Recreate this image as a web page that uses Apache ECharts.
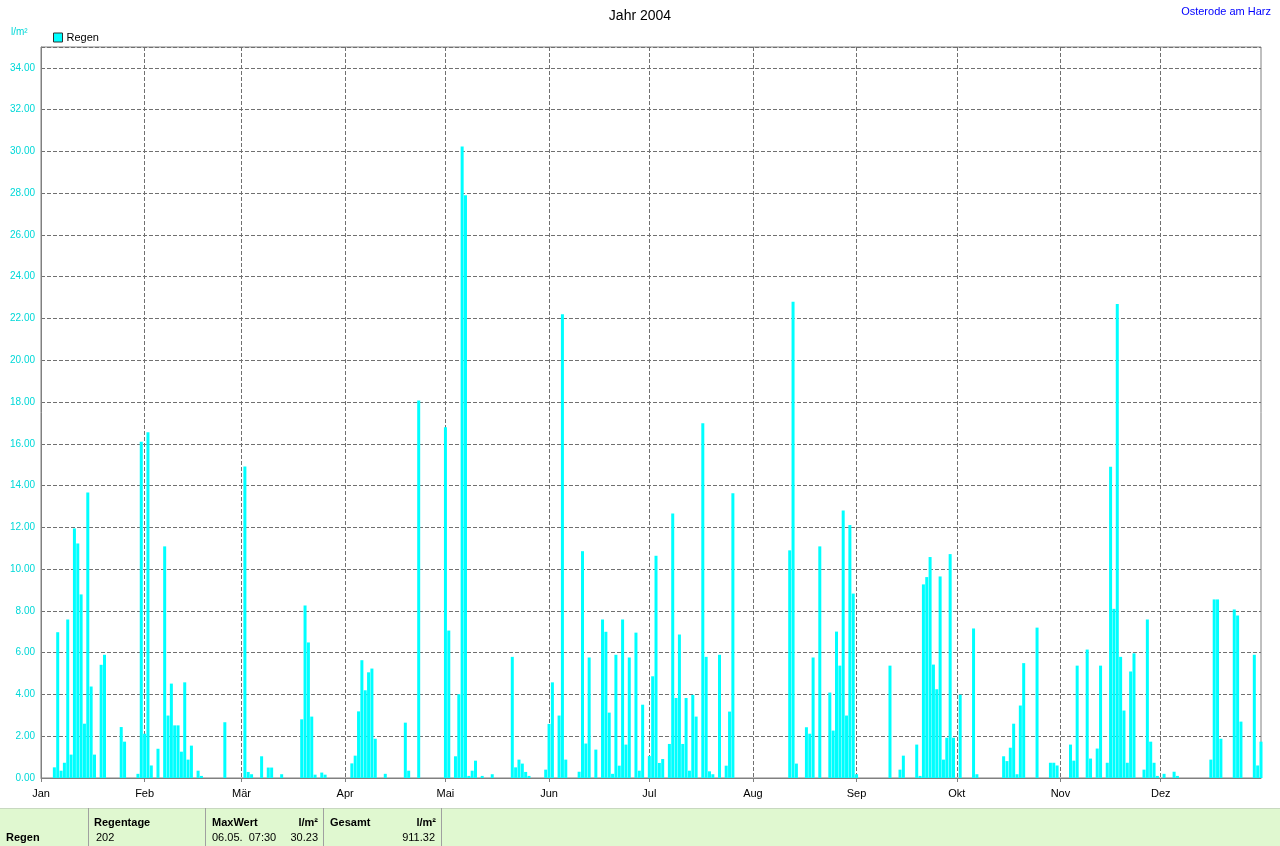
<!DOCTYPE html>
<html><head><meta charset="utf-8">
<script src="https://cdn.jsdelivr.net/npm/echarts@6/dist/echarts.min.js"></script>
<style>html,body{margin:0;padding:0;background:#fff}#c{width:1280px;height:846px}</style>
</head><body><div id="c"></div>
<script>
const monthNames = ['Jan','Feb','Mär','Apr','Mai','Jun','Jul','Aug','Sep','Okt','Nov','Dez'];
const jan = [0,0,0,0,0.51,6.98,0.35,0.73,7.59,1.12,11.95,11.23,8.79,2.6,13.67,4.38,1.12,0,5.42,5.9,0,0,0,0,2.44,1.74,0,0,0,0.2,16.1];
const feb = [2.12,16.55,0.6,0,1.4,0,11.09,2.99,4.52,2.52,2.52,1.26,4.58,0.88,1.55,0,0.35,0.1,0,0,0,0,0,0,2.67,0,0,0,0];
const mar = [0,14.92,0.29,0.18,0,0,1.04,0,0.5,0.5,0,0,0.18,0,0,0,0,0,2.81,8.26,6.49,2.94,0.16,0,0.26,0.16,0,0,0,0,0];
const apr = [0,0,0.7,1.07,3.19,5.64,4.2,5.06,5.24,1.88,0,0,0.2,0,0,0,0,0,2.65,0.35,0,0,18.08,0,0,0,0,0,0,0];
const mai = [16.79,7.06,0,1.04,4.01,30.23,27.9,0.1,0.35,0.83,0,0.1,0,0,0.18,0,0,0,0,0,5.8,0.51,0.88,0.69,0.29,0.1,0,0,0,0,0.4];
const jun = [2.59,4.58,0,2.99,22.2,0.88,0,0,0,0.3,10.86,1.65,5.77,0,1.36,0,7.59,7.0,3.13,0.2,5.9,0.59,7.59,1.6,5.77,0,6.96,0.35,3.51,0];
const jul = [1.05,4.87,10.64,0.72,0.91,0,1.63,12.67,3.83,6.87,1.63,3.83,0.35,3.98,2.94,0,16.98,5.8,0.32,0.18,0,5.9,0,0.59,3.18,13.63,0,0,0,0,0];
const aug = [0,0,0,0,0,0,0,0,0,0,0,10.9,22.8,0.69,0,0,2.43,2.12,5.77,0,11.09,0,0,4.09,2.27,7.01,5.38,12.81,2.99,12.11,8.83];
const sep = [0.18,0,0,0,0,0,0,0,0,0,5.38,0,0,0.4,1.07,0,0,0,1.6,0.1,9.27,9.62,10.58,5.43,4.25,9.65,0.88,1.93,10.72,1.93];
const okt = [0,3.99,0,0,0,7.16,0.18,0,0,0,0,0,0,0,1.04,0.81,1.45,2.6,0.18,3.47,5.5,0,0,0,7.2,0,0,0,0.73,0.73,0.6];
const nov = [0,0,0,1.6,0.83,5.38,0,0,6.15,0.93,0,1.41,5.38,0,0.73,14.9,8.1,22.7,5.8,3.23,0.73,5.1,5.97,0,0,0.4,7.59,1.74,0.73,0.1];
const dez = [0,0.2,0,0,0.3,0.1,0,0,0,0,0,0,0,0,0,0.88,8.55,8.55,1.88,0,0,0,8.07,7.78,2.7,0,0,0,5.9,0.6,1.74];
const yTickLabels = {min: 0, max: 35, step: 2};
const footer = {
  row: 'Regen', tageLabel: 'Regentage', tage: '202',
  maxLabel: 'MaxWert', maxUnit: 'l/m²', maxDate: '06.05.  07:30', maxVal: '30.23',
  sumLabel: 'Gesamt', sumUnit: 'l/m²', sumVal: '911.32'
};

const months = [jan,feb,mar,apr,mai,jun,jul,aug,sep,okt,nov,dez];
const days = [], values = [], monthStart = {};
months.forEach((arr, m) => {
  arr.forEach((v, d) => {
    if (d === 0) monthStart[days.length] = monthNames[m];
    days.push(String(d+1).padStart(2,'0') + '.' + String(m+1).padStart(2,'0') + '.');
    values.push(v);
  });
});
const isStart = (i) => monthStart[i] !== undefined;

const chart = echarts.init(document.getElementById('c'), null, {renderer: 'canvas'});
const FF = 'Liberation Sans, Arial, sans-serif';
const gridC = '#808080';
chart.setOption({
  animation: false,
  textStyle: {fontFamily: FF},
  title: {text: 'Jahr 2004', left: 'center', top: 4,
    textStyle: {fontSize: 14, fontWeight: 'normal', color: '#000', fontFamily: FF}},
  legend: {left: 48, top: 27, itemWidth: 9, itemHeight: 9, itemGap: 4, icon: 'rect',
    data: [{name: 'Regen', itemStyle: {color: '#00ffff', borderColor: '#333', borderWidth: 1}}],
    textStyle: {fontSize: 11, color: '#000', fontFamily: FF, padding: [0,0,0,-1]}},
  grid: {left: 41, right: 19, top: 47, bottom: 68, show: true, borderColor: gridC, borderWidth: 1, backgroundColor: '#fff'},
  xAxis: {
    type: 'category', data: days, boundaryGap: false,
    axisLine: {show: true, lineStyle: {color: gridC}},
    axisTick: {show: true, length: 4, lineStyle: {color: gridC}, interval: (i) => isStart(i)},
    axisLabel: {interval: (i) => isStart(i), formatter: (v, i) => monthStart[i] || '',
      fontSize: 11, color: '#000', margin: 10, fontFamily: FF},
    splitLine: {show: true, interval: (i) => isStart(i), lineStyle: {color: '#707070', type: [4,2], width: 1}}
  },
  yAxis: {
    type: 'value', min: yTickLabels.min, max: yTickLabels.max, interval: yTickLabels.step,
    axisLine: {show: true, lineStyle: {color: gridC}},
    axisTick: {show: false},
    axisLabel: {formatter: (v) => v.toFixed(2), fontSize: 10, color: '#00d8d8', margin: 6,
      showMaxLabel: false, fontFamily: FF},
    splitLine: {show: true, lineStyle: {color: '#707070', type: [4,2], width: 1}}
  },
  series: [{
    name: 'Regen', type: 'bar', data: values, barWidth: 3,
    itemStyle: {color: '#00ffff'}, clip: true, large: false
  }],
  graphic: [
    {type: 'text', left: 11, top: 27, style: {text: 'l/m²', fontSize: 10, fill: '#00d8d8', fontFamily: FF}},
    {type: 'text', right: 9, top: 6, style: {text: 'Osterode am Harz', fontSize: 11, fill: '#0000ff', fontFamily: FF}},
    {type: 'rect', shape: {x: 0, y: 808, width: 1280, height: 38}, style: {fill: '#e0f8d0', stroke: null}, z: 0},
    {type: 'line', shape: {x1: 0, y1: 808.5, x2: 1280, y2: 808.5}, style: {stroke: '#c8d8c0', lineWidth: 1}},
    {type: 'line', shape: {x1: 88.5, y1: 808, x2: 88.5, y2: 846}, style: {stroke: '#a0a0a0', lineWidth: 1}},
    {type: 'line', shape: {x1: 205.5, y1: 808, x2: 205.5, y2: 846}, style: {stroke: '#a0a0a0', lineWidth: 1}},
    {type: 'line', shape: {x1: 323.5, y1: 808, x2: 323.5, y2: 846}, style: {stroke: '#a0a0a0', lineWidth: 1}},
    {type: 'line', shape: {x1: 441.5, y1: 808, x2: 441.5, y2: 846}, style: {stroke: '#a0a0a0', lineWidth: 1}},
    {type: 'text', x: 6, y: 832, style: {text: footer.row, fontSize: 11, fontWeight: 'bold', fill: '#000', fontFamily: FF}},
    {type: 'text', x: 94, y: 817, style: {text: footer.tageLabel, fontSize: 11, fontWeight: 'bold', fill: '#000', fontFamily: FF}},
    {type: 'text', x: 96, y: 832, style: {text: footer.tage, fontSize: 11, fill: '#000', fontFamily: FF}},
    {type: 'text', x: 212, y: 817, style: {text: footer.maxLabel, fontSize: 11, fontWeight: 'bold', fill: '#000', fontFamily: FF}},
    {type: 'text', x: 318, y: 817, style: {text: footer.maxUnit, fontSize: 11, fontWeight: 'bold', fill: '#000', align: 'right', fontFamily: FF}},
    {type: 'text', x: 212, y: 832, style: {text: footer.maxDate, fontSize: 11, fill: '#000', fontFamily: FF}},
    {type: 'text', x: 318, y: 832, style: {text: footer.maxVal, fontSize: 11, fill: '#000', align: 'right', fontFamily: FF}},
    {type: 'text', x: 330, y: 817, style: {text: footer.sumLabel, fontSize: 11, fontWeight: 'bold', fill: '#000', fontFamily: FF}},
    {type: 'text', x: 436, y: 817, style: {text: footer.sumUnit, fontSize: 11, fontWeight: 'bold', fill: '#000', align: 'right', fontFamily: FF}},
    {type: 'text', x: 435, y: 832, style: {text: footer.sumVal, fontSize: 11, fill: '#000', align: 'right', fontFamily: FF}}
  ]
});
</script></body></html>
